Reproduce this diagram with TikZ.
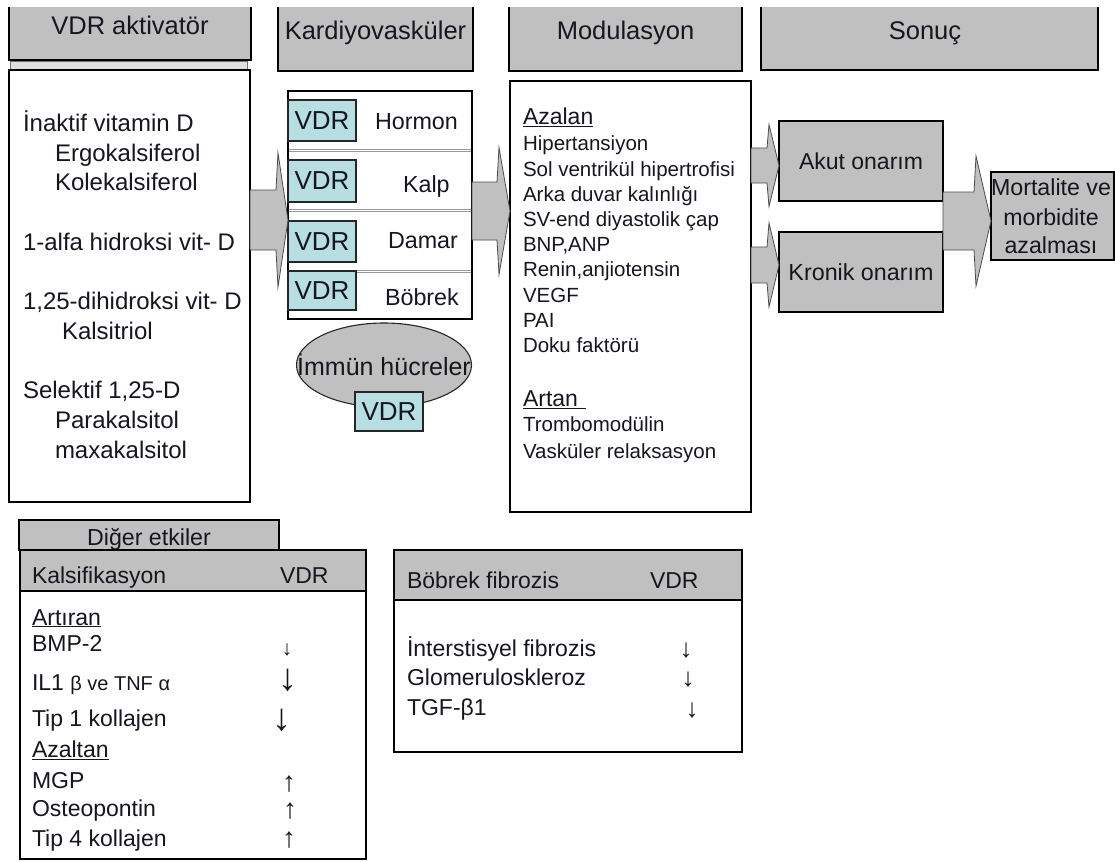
\documentclass[tikz,border=0pt]{standalone}
\usepackage{fontspec}
\setmainfont{Liberation Sans}
\usetikzlibrary{shapes.geometric,calc}
\definecolor{hgrey}{RGB}{192,192,192}
\definecolor{vcyan}{RGB}{183,222,224}
\definecolor{ink}{RGB}{22,22,32}
\newcommand\fs[1]{\fontsize{#1}{#1}\selectfont}
\newcommand\blockarr[6]{%
  \coordinate (ba) at (0,#3);
  \path[blockarrow] let \p1=(#1.east |- ba), \p2=(#2.west |- ba) in
    (\x1,\y1+#4) -- (\x2-#6,\y1+#4) -- (\x2-#6+2,\y1+#5) -- (\x2,\y1)
    -- (\x2-#6+2,\y1-#5) -- (\x2-#6,\y1-#4) -- (\x1,\y1-#4) -- cycle;
}
\begin{document}
\begin{tikzpicture}[x=1pt,y=-1pt,
  every node/.style={inner sep=0pt, outer sep=0pt, text=ink},
  box/.style={draw=black, line width=1.3pt, fill=white, anchor=north west},
  gbox/.style={box, fill=hgrey},
  hfill/.style={fill=hgrey, anchor=north west},
  hline/.style={draw=black, line width=1.3pt},
  rowbox/.style={draw=black!40, line width=1pt, fill=white, anchor=north west},
  vdrbox/.style={draw=black!85, line width=1.1pt, fill=vcyan, anchor=north west, font=\fs{26}},
  txt/.style={anchor=base west},
  ctxt/.style={anchor=base},
  blockarrow/.style={fill=hgrey, draw=black!70, line width=0.8pt, line join=miter},
  arr/.style={anchor=center}]
\useasboundingbox (0,0) rectangle (1115,861);
\clip (0,0) rectangle (1115,861);

% ---------- headers ----------
\node[hfill, minimum width=242pt, minimum height=53pt] (h1) at (9,7) {};
\draw[hline] (h1.north west) -- (h1.south west) -- (h1.south east) -- (h1.north east);
\node[draw=black!55, fill=black!12, line width=0.8pt, minimum width=237pt, minimum height=8pt, anchor=north west] (h1s) at (10,61) {};
\node[hfill, minimum width=195pt, minimum height=64pt] (h2) at (278,7) {};
\draw[hline] (h2.north west) -- (h2.south west) -- (h2.south east) -- (h2.north east);
\node[hfill, minimum width=233pt, minimum height=64pt] (h3) at (509,7) {};
\draw[hline] (h3.north west) -- (h3.south west) -- (h3.south east) -- (h3.north east);
\node[hfill, minimum width=337pt, minimum height=63pt] (h4) at (761,7) {};
\draw[hline] (h4.north west) -- (h4.south west) -- (h4.south east) -- (h4.north east);

\node[ctxt, font=\fs{25.5}] (h1t) at (130,35) {VDR aktivatör};
\node[ctxt, font=\fs{25.5}] (h2t) at (375.5,40) {Kardiyovasküler};
\node[ctxt, font=\fs{25.5}] (h3t) at (625.5,40) {Modulasyon};
\node[ctxt, font=\fs{25.5}] (h4t) at (925,40) {Sonuç};

% ---------- left box ----------
\node[box, minimum width=241pt, minimum height=432pt] (lbox) at (9,70) {};
\begin{scope}[font=\fs{24}]
\node[txt] (l1) at (23,132) {İnaktif vitamin D};
\node[txt] (l2) at (55,162) {Ergokalsiferol};
\node[txt] (l3) at (55,190) {Kolekalsiferol};
\node[txt] (l4) at (23,250) {1-alfa hidroksi vit- D};
\node[txt] (l5) at (23,309) {1,25-dihidroksi vit- D};
\node[txt] (l6) at (62,339.5) {Kalsitriol};
\node[txt] (l7) at (23,398) {Selektif 1,25-D};
\node[txt] (l8) at (55,428) {Parakalsitol};
\node[txt] (l9) at (55,458) {maxakalsitol};
\end{scope}

% ---------- cardiovascular column ----------
\node[rowbox, minimum width=184pt, minimum height=59pt] (r1) at (288,91) {};
\node[rowbox, minimum width=184pt, minimum height=57pt] (r2) at (288,152) {};
\node[rowbox, minimum width=184pt, minimum height=59pt] (r3) at (288,211) {};
\node[rowbox, minimum width=184pt, minimum height=47pt] (r4) at (288,272) {};
\draw[black, line width=1.3pt] (r1.north west) rectangle (r4.south east);
\node[vdrbox, minimum width=68pt, minimum height=41pt] (v1) at (288,100) {VDR};
\node[vdrbox, minimum width=68pt, minimum height=42pt] (v2) at (288,160) {VDR};
\node[vdrbox, minimum width=68pt, minimum height=41pt] (v3) at (288,221) {VDR};
\node[vdrbox, minimum width=68pt, minimum height=39pt] (v4) at (288,271) {VDR};
\begin{scope}[font=\fs{23.3}]
\node[txt] (c1) at (375,130) {Hormon};
\node[txt] (c2) at (403,192) {Kalp};
\node[txt] (c3) at (388,248) {Damar};
\node[txt] (c4) at (385,305) {Böbrek};
\end{scope}
\node[ellipse, fill=hgrey, draw=black!85, line width=1.1pt, minimum width=175pt, minimum height=84pt] (imm) at (384,365) {};
\node[ctxt, font=\fs{25}] (immt) at (384,375) {İmmün hücreler};
\node[vdrbox, minimum width=68pt, minimum height=39pt] (v5) at (355,392) {VDR};

% ---------- modulation ----------
\node[box, minimum width=241pt, minimum height=431pt] (mbox) at (510,81) {};
\node[txt, font=\fs{23}] (az) at (523,125) {\underline{Azalan}};
\begin{scope}[font=\fs{20.5}]
\node[txt] (m1) at (523,150.8) {Hipertansiyon};
\node[txt] (m2) at (523,176) {Sol ventrikül hipertrofisi};
\node[txt] (m3) at (523,201.2) {Arka duvar kalınlığı};
\node[txt] (m4) at (523,226.4) {SV-end diyastolik çap};
\node[txt] (m5) at (523,251.6) {BNP,ANP};
\node[txt] (m6) at (523,276.8) {Renin,anjiotensin};
\node[txt] (m7) at (523,302) {VEGF};
\node[txt] (m8) at (523,327.2) {PAI};
\node[txt] (m9) at (523,352.4) {Doku faktörü};
\node[txt] (m10) at (523,431.7) {Trombomodülin};
\node[txt] (m11) at (523,458.3) {Vasküler relaksasyon};
\end{scope}
\node[txt, font=\fs{23}] (ar) at (523,406.7) {\underline{Artan\,\,}};

% ---------- outcome ----------
\node[gbox, minimum width=164pt, minimum height=80pt, font=\fs{23}] (akut) at (779,121) {Akut onarım};
\node[gbox, minimum width=164pt, minimum height=80pt, font=\fs{23.3}] (kron) at (779,232) {Kronik onarım};
\node[gbox, minimum width=123pt, minimum height=88pt] (mort) at (991,172) {};
\begin{scope}[font=\fs{23.2}]
\node[ctxt] (mo1) at (1051,195) {Mortalite ve};
\node[ctxt] (mo2) at (1051,225) {morbidite};
\node[ctxt] (mo3) at (1051,253.3) {azalması};
\end{scope}

% ---------- block arrows ----------
\blockarr{lbox}{r2}{220}{30}{67}{12}
\blockarr{r2}{mbox}{211}{29}{63.5}{13}
\blockarr{mbox}{akut}{165.5}{17.5}{41}{12}
\blockarr{mbox}{kron}{265}{18}{42}{12}
\blockarr{akut}{mort}{221}{29}{65}{17}

% ---------- calcification ----------
\node[gbox, minimum width=260pt, minimum height=30pt] (tab) at (19,520) {};
\node[ctxt, font=\fs{23.2}] (tabt) at (149,545) {Diğer etkiler};
\node[box, minimum width=346pt, minimum height=309pt] (kbox) at (20,550) {};
\node[gbox, minimum width=346pt, minimum height=41pt] (khd) at (20,550) {};
\begin{scope}[font=\fs{23}]
\node[txt] (kt) at (32,583) {Kalsifikasyon};
\node[txt] (kv) at (280,583) {VDR};
\node[txt] (k1) at (32,625) {\underline{Artıran}};
\node[txt] (k2) at (32,651.7) {BMP-2};
\node[txt] (k3) at (32,690) {IL1 {\fs{20}β ve TNF α}};
\node[txt] (k4) at (32,726.7) {Tip 1 kollajen};
\node[txt] (k5) at (32,757.3) {\underline{Azaltan}};
\node[txt] (k6) at (32,788.3) {MGP};
\node[txt] (k7) at (32,816.7) {Osteopontin};
\node[txt] (k8) at (32,846.7) {Tip 4 kollajen};
\end{scope}
\node[arr, font=\fs{21}] (ka2) at (287,650) {↓};
\node[arr, font=\fs{38}] (ka3) at (288,680) {↓};
\node[arr, font=\fs{38}] (ka4) at (282,720) {↓};
\node[arr, font=\fs{28}] (ka6) at (289,784) {↑};
\node[arr, font=\fs{28}] (ka7) at (290,811.5) {↑};
\node[arr, font=\fs{28}] (ka8) at (289,840.5) {↑};

% ---------- kidney fibrosis ----------
\node[box, minimum width=348pt, minimum height=202pt] (bbox) at (394,550) {};
\node[gbox, minimum width=348pt, minimum height=50pt] (bhd) at (394,550) {};
\begin{scope}[font=\fs{23}]
\node[txt] (bt) at (407,588) {Böbrek fibrozis};
\node[txt] (bv) at (650,588) {VDR};
\node[txt] (b1) at (407,656.7) {İnterstisyel fibrozis};
\node[txt] (b2) at (407,685) {Glomeruloskleroz};
\node[txt] (b3) at (407,715) {TGF-β1};
\end{scope}
\node[arr, font=\fs{26}] (ba1) at (686,651) {↓};
\node[arr, font=\fs{26}] (ba2) at (688,680) {↓};
\node[arr, font=\fs{26}] (ba3) at (692,711) {↓};
\end{tikzpicture}
\end{document}
